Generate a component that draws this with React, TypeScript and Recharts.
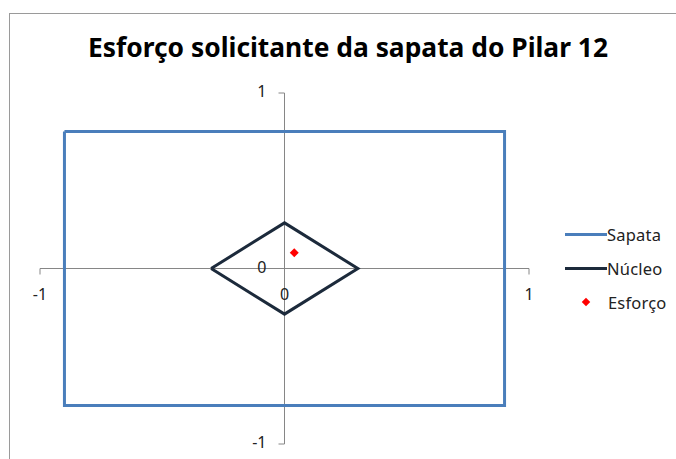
import React from 'react';
import { ScatterChart, Scatter, XAxis, YAxis, ReferenceLine } from 'recharts';

const TITLE = 'Esforço solicitante da sapata do Pilar 12';
const AXIS_TICKS = [-1, 0, 1];

// sapata outline (closed) and núcleo central (closed)
const sapataX = [-0.9, 0.9, 0.9, -0.9, -0.9];
const sapataY = [0.78, 0.78, -0.78, -0.78, 0.78];
const nucleoX = [-0.3, 0, 0.3, 0, -0.3];
const nucleoY = [0, 0.26, 0, -0.26, 0];
const esforcoX = [0.04];
const esforcoY = [0.09];

const SERIES_NAMES = ['Sapata', 'Núcleo', 'Esforço'];
const SERIES_COLORS = ['#4a7ebb', '#1c2a3b', '#ff0000'];

const W = 676;
const H = 459;
const AX = 1; // thickness given to the hidden edge axes
const MARGIN = { top: 93, bottom: 15 - AX, left: 40 - AX, right: 147 };
const ZERO_X = 40 + (W - 40 - MARGIN.right) / 2;
const ZERO_Y = MARGIN.top + (H - MARGIN.top - 15) / 2;

const FONT = '"Noto Sans", "Open Sans", sans-serif';

const toPoints = (xs: number[], ys: number[]) => xs.map((x, i) => ({ x, y: ys[i] }));
const sapata = toPoints(sapataX, sapataY);
const nucleo = toPoints(nucleoX, nucleoY);
const esforco = toPoints(esforcoX, esforcoY);

const NoDot = () => <g />;

const Diamond = (props: any) => {
  const { cx, cy, fill } = props;
  const r = 4.5;
  return <path d={`M${cx},${cy - r}L${cx + r},${cy}L${cx},${cy + r}L${cx - r},${cy}Z`} fill={fill} />;
};

const XTick = (props: any) => {
  const { x, payload } = props;
  const v = payload.value;
  return (
    <g>
      {v !== 0 && <line x1={x} x2={x} y1={ZERO_Y} y2={ZERO_Y + 6} stroke="#868686" strokeWidth={1} />}
      <text x={x} y={ZERO_Y + 27} textAnchor="middle" dominantBaseline="middle" fontSize={16} fill="#222" fontFamily={FONT}>
        {v}
      </text>
    </g>
  );
};

const YTick = (props: any) => {
  const { y, payload } = props;
  const v = payload.value;
  return (
    <g>
      {v !== 0 && <line x1={ZERO_X - 6} x2={ZERO_X} y1={y} y2={y} stroke="#868686" strokeWidth={1} />}
      <text x={ZERO_X - 18} y={y} textAnchor="end" dominantBaseline="middle" fontSize={16} fill="#222" fontFamily={FONT}>
        {v}
      </text>
    </g>
  );
};

const LegendRow = ({ i, top }: { i: number; top: number }) => (
  <div style={{ position: 'absolute', left: 565, top: top - 12, height: 24, display: 'flex', alignItems: 'center' }}>
    <div style={{ width: 42, display: 'flex', justifyContent: 'center', alignItems: 'center' }}>
      {i < 2 ? (
        <div style={{ width: 42, height: 3, background: SERIES_COLORS[i] }} />
      ) : (
        <div style={{ width: 6, height: 6, background: SERIES_COLORS[i], transform: 'rotate(45deg)' }} />
      )}
    </div>
    <span style={{ fontFamily: FONT, fontSize: 16.5, color: '#222', marginLeft: i < 2 ? 0 : 1, letterSpacing: 0.2 }}>
      {SERIES_NAMES[i]}
    </span>
  </div>
);

export default function App() {
  return (
    <div style={{ position: 'absolute', left: 0, top: 0, width: W, height: H, overflow: 'hidden', background: '#fff' }}>
      <div style={{ position: 'absolute', left: 9, top: 13, width: 720, height: 520, border: '1px solid #9a9a9a' }} />
      <svg style={{ position: 'absolute', left: 0, top: 0 }} width={W} height={70}>
        <text x={348} y={57} textAnchor="middle" fontSize={27} fontWeight="bold" fontFamily={FONT} fill="#000"
          textLength={520} lengthAdjust="spacingAndGlyphs">
          {TITLE}
        </text>
      </svg>
      <div style={{ position: 'absolute', left: 0, top: 0 }}>
        <ScatterChart width={W} height={H} margin={MARGIN}>
          <XAxis type="number" dataKey="x" domain={[-1, 1]} ticks={AXIS_TICKS} interval={0}
            height={AX} axisLine={false} tickLine={false} tick={XTick} />
          <YAxis type="number" dataKey="y" domain={[-1, 1]} ticks={AXIS_TICKS} interval={0}
            width={AX} axisLine={false} tickLine={false} tick={YTick} />
          <ReferenceLine y={0} stroke="#868686" strokeWidth={1} />
          <ReferenceLine x={0} stroke="#868686" strokeWidth={1} />
          <Scatter name={SERIES_NAMES[0]} data={sapata} line={{ stroke: SERIES_COLORS[0], strokeWidth: 3 }}
            shape={NoDot} fill={SERIES_COLORS[0]} isAnimationActive={false} />
          <Scatter name={SERIES_NAMES[1]} data={nucleo} line={{ stroke: SERIES_COLORS[1], strokeWidth: 3 }}
            shape={NoDot} fill={SERIES_COLORS[1]} isAnimationActive={false} />
          <Scatter name={SERIES_NAMES[2]} data={esforco} shape={Diamond} fill={SERIES_COLORS[2]}
            isAnimationActive={false} />
        </ScatterChart>
      </div>
      <LegendRow i={0} top={234} />
      <LegendRow i={1} top={268} />
      <LegendRow i={2} top={302} />
    </div>
  );
}
